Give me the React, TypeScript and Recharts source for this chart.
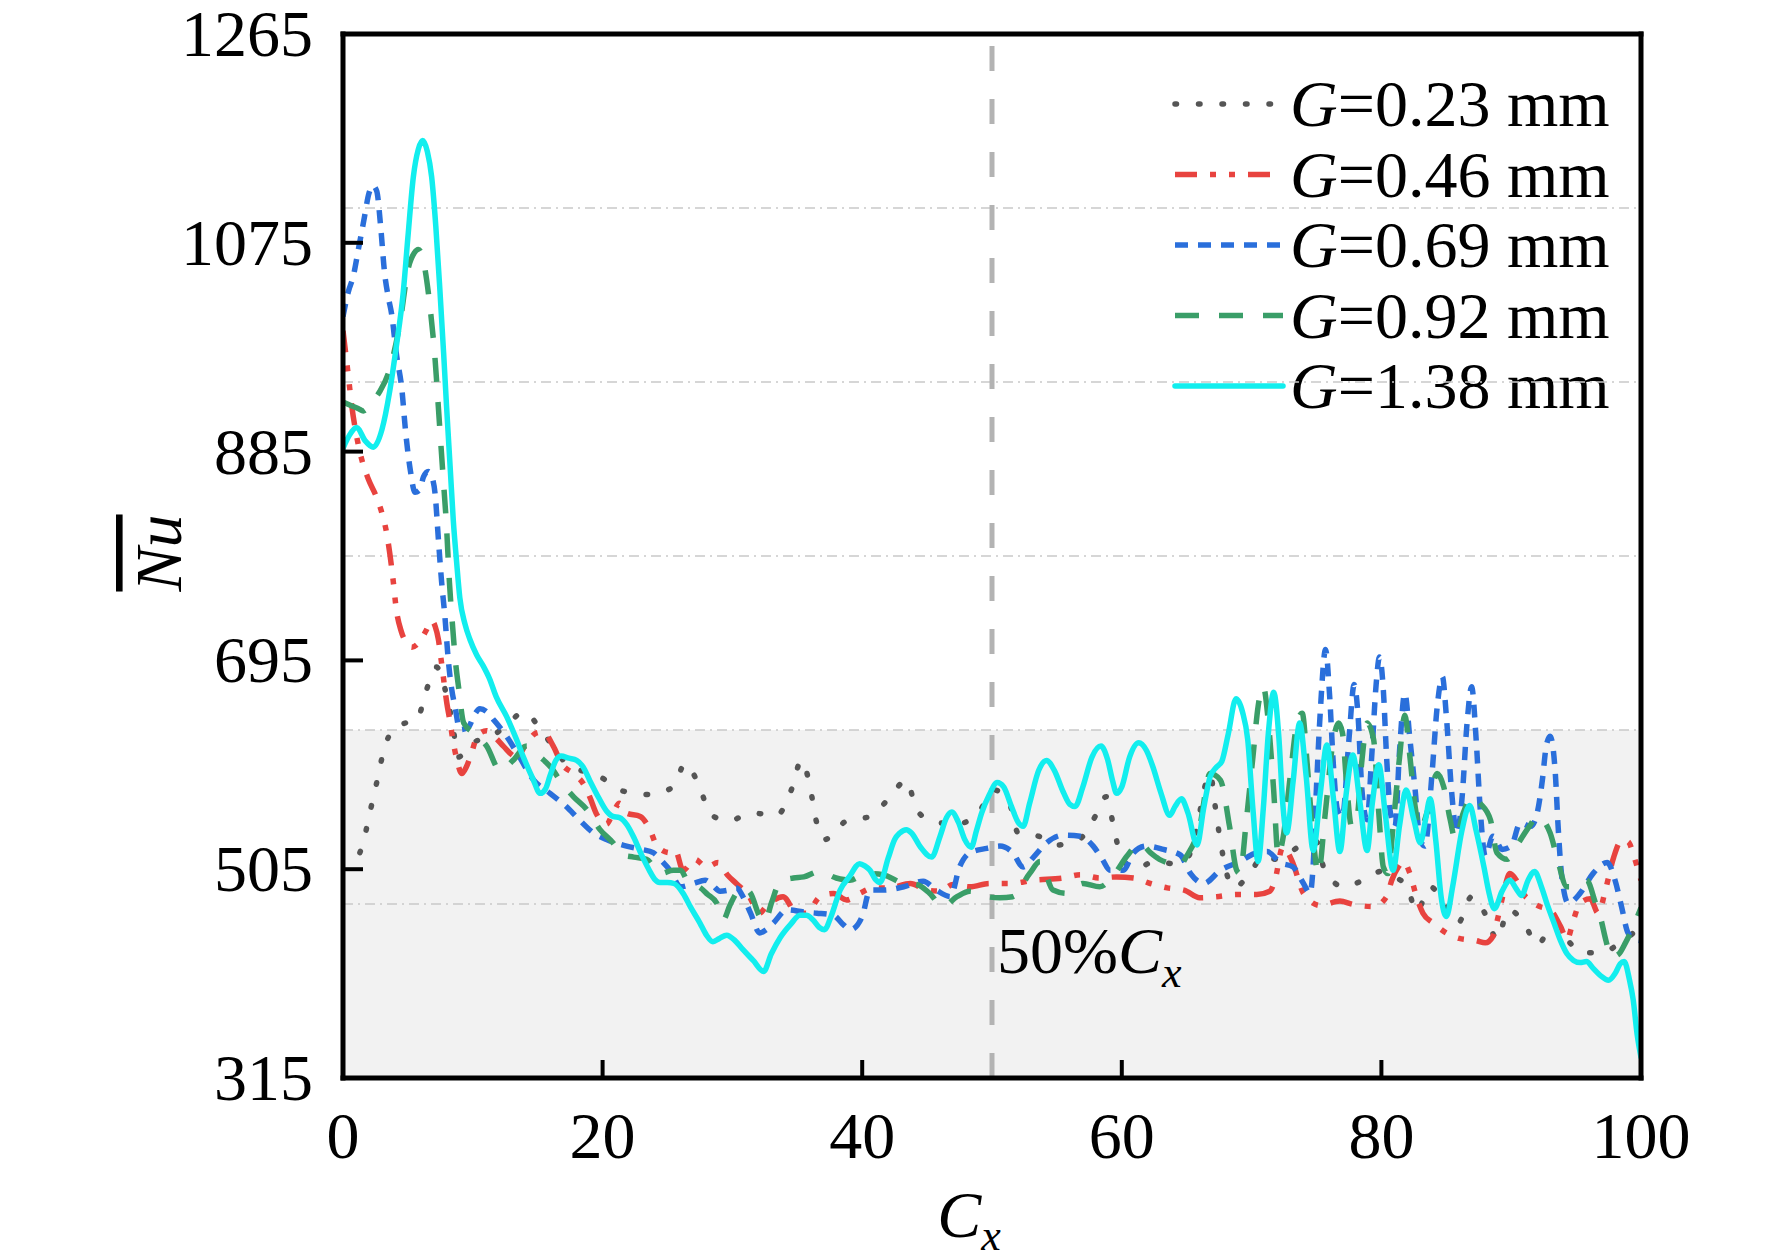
import React from 'react';
import { LineChart, Line, XAxis, YAxis, ReferenceLine, ReferenceArea } from 'recharts';

const FONT = 'Liberation Serif, Times New Roman, Tinos, DejaVu Serif, serif';
const FS = 66;

const X_TICKS = [0, 20, 40, 60, 80, 100];
const Y_TICKS = [315, 505, 695, 885, 1075, 1265];
const GRID_Y = [473.33, 631.67, 790, 948.33, 1106.67];
const SHADE_TOP = 631.67;
const MID_LINE = 50;

// [Cx, Nu]
const G023: [number, number][] = [
  [1.3, 520], [1.57, 530], [2.08, 557], [2.6, 584], [3.1, 611], [3.9, 633], [4.8, 638], [5.7, 641],
  [6.4, 667], [7.2, 689], [7.6, 680], [8.0, 662], [8.4, 640], [8.9, 607], [9.4, 612], [10.04, 620],
  [11.45, 626], [12.7, 637], [13.9, 648], [15.3, 631], [16.5, 611], [17.5, 598], [18.6, 594],
  [19.8, 589], [21.6, 576], [23.65, 573], [25.45, 580], [26.35, 601], [27.5, 579], [28.3, 555],
  [29.7, 549], [31.5, 556], [33.4, 554], [34.6, 579], [35.3, 604], [36.0, 579], [36.4, 552],
  [37.1, 532], [38.8, 549], [40.6, 553], [42.1, 570], [43.4, 586], [44.2, 559], [45.35, 549],
  [47.2, 546], [48.8, 554], [50.2, 577], [51.4, 563], [52.0, 538], [53.6, 535], [55.0, 527],
  [56.7, 532], [58.0, 554], [58.8, 571], [59.4, 542], [60.0, 514], [61.2, 506], [62.5, 512],
  [64.0, 510], [65.0, 514], [65.8, 544], [66.4, 580], [66.8, 592], [67.2, 562], [67.6, 530],
  [68.6, 488], [69.8, 500], [70.9, 517], [71.9, 514], [72.7, 518], [74.0, 528], [75.0, 530],
  [75.6, 505], [77.1, 489], [78.6, 495], [80.0, 503], [81.0, 498], [82.0, 489], [82.7, 466],
  [83.75, 489], [85.0, 471], [85.9, 456], [86.95, 480], [88.1, 462], [88.9, 441], [89.8, 468],
  [91.0, 456], [92.0, 436], [93.3, 456], [94.3, 441], [95.5, 429], [96.9, 429], [98.4, 438],
  [99.4, 447], [100, 455],
];

const G046: [number, number][] = [
  [0, 995], [0.41, 954], [0.67, 927], [1.05, 899], [1.44, 878], [1.95, 860], [2.6, 843], [3.0, 829],
  [3.36, 811], [3.62, 791], [3.88, 766], [4.1, 742], [4.5, 721], [4.9, 711], [5.3, 707], [5.9, 712],
  [6.4, 722], [6.83, 731], [7.1, 726], [7.35, 714], [7.6, 692], [8.0, 656], [8.25, 639], [8.5, 620],
  [8.75, 606], [9.14, 592], [9.5, 598], [9.8, 607], [10.4, 627], [11.07, 631], [11.8, 624],
  [12.35, 617], [13.4, 607], [14.15, 620], [14.9, 629], [15.4, 630], [16.2, 617], [16.85, 601],
  [17.75, 592], [18.5, 583], [19.0, 571], [19.5, 556], [20.3, 546], [20.8, 556], [21.3, 565],
  [21.85, 556], [22.9, 553], [23.65, 541], [24.2, 526], [25.2, 520], [25.6, 522], [26.2, 504],
  [27.1, 514], [28.0, 507], [28.9, 511], [29.6, 500], [30.3, 492], [31.2, 482], [32.1, 465],
  [32.6, 471], [33.9, 480], [34.95, 465], [35.7, 465], [36.75, 480], [37.8, 483], [38.8, 477],
  [39.8, 483], [40.9, 488], [42.1, 488], [43.7, 492], [45.0, 486], [46.0, 485], [47.0, 491],
  [48.3, 489], [49.8, 492], [51.4, 492], [53.2, 495], [55.5, 497], [56.8, 500], [58.3, 497],
  [59.6, 498], [60.9, 497], [62.2, 492], [63.5, 488], [64.8, 486], [66.0, 479], [67.3, 480],
  [68.85, 482], [70.4, 482], [71.4, 485], [71.8, 495], [72.4, 525], [72.8, 520], [73.2, 510],
  [74.0, 483], [75.3, 472], [76.8, 476], [77.8, 473], [79.4, 471], [80.4, 480], [80.8, 495],
  [81.3, 507], [81.7, 512], [82.2, 501], [82.7, 480], [83.2, 465], [84.0, 456], [85.0, 447],
  [86.0, 442], [87.3, 440], [88.0, 438], [88.6, 444], [89.0, 462], [89.4, 483], [89.9, 501],
  [90.4, 495], [90.9, 483], [91.4, 477], [92.2, 471], [93.0, 468], [93.8, 453], [94.3, 441],
  [94.8, 459], [95.3, 474], [96.1, 478], [96.7, 465], [97.3, 488], [97.9, 516], [98.5, 531],
  [99.0, 530], [99.5, 515], [100, 495],
];

const G069: [number, number][] = [
  [0, 1008], [0.4, 1030], [0.8, 1045], [1.2, 1070], [1.6, 1095], [2.0, 1120], [2.3, 1127],
  [2.6, 1122], [2.9, 1090], [3.2, 1048], [3.5, 1025], [3.75, 1010], [4.1, 975], [4.55, 940],
  [4.8, 906], [5.2, 867], [5.55, 848], [5.9, 850], [6.2, 862], [6.57, 867], [6.85, 862], [7.1, 846],
  [7.35, 805], [7.6, 766], [7.85, 735], [8.1, 697], [8.37, 669], [8.63, 653], [9.0, 632], [9.65, 634],
  [10.1, 645], [10.55, 651], [11.1, 648], [11.6, 641], [12.6, 626], [13.6, 607], [14.7, 586],
  [15.95, 574], [17.2, 562], [18.2, 550], [19.3, 538], [20.3, 532], [21.85, 526], [23.0, 523],
  [23.9, 520], [24.6, 512], [25.2, 504], [26.0, 489], [27.0, 492], [27.9, 495], [28.5, 490],
  [29.05, 485], [29.7, 486], [30.3, 488], [30.9, 478], [31.4, 465], [32.1, 447], [32.6, 450],
  [33.15, 456], [34.2, 468], [35.5, 466], [36.5, 465], [37.8, 463], [38.5, 455], [39.1, 450],
  [40.0, 462], [40.6, 486], [41.6, 486], [43.2, 489], [44.7, 494], [45.7, 486], [46.8, 480],
  [47.5, 507], [48.3, 520], [49.6, 524], [50.6, 526], [51.6, 520], [52.4, 507], [53.2, 516],
  [54.2, 529], [55.5, 536], [56.8, 535], [57.8, 526], [58.5, 514], [59.1, 504], [60.1, 504],
  [60.9, 520], [61.9, 526], [63.2, 523], [64.5, 518], [65.3, 501], [66.3, 492], [67.6, 504],
  [69.1, 512], [70.4, 520], [71.2, 521], [72.2, 511], [73.2, 507], [74.0, 492], [74.5, 483],
  [74.75, 510], [75.0, 580], [75.3, 650], [75.7, 705], [76.0, 665], [76.3, 600], [76.6, 560],
  [77.0, 553], [77.5, 623], [77.9, 673], [78.2, 645], [78.5, 577], [78.9, 550], [79.25, 607],
  [79.6, 674], [79.85, 698], [80.15, 668], [80.4, 607], [80.7, 556], [81.05, 544], [81.4, 613],
  [81.8, 665], [82.2, 623], [82.6, 577], [82.97, 532], [83.35, 526], [83.9, 592], [84.3, 653],
  [84.7, 680], [85.0, 645], [85.4, 577], [85.8, 538], [86.2, 568], [86.6, 638], [86.95, 671],
  [87.3, 623], [87.6, 562], [88.0, 517], [88.6, 535], [89.3, 523], [90.0, 526], [90.7, 547],
  [91.5, 544], [92.0, 556], [92.4, 586], [92.7, 617], [93.0, 626], [93.4, 592], [93.6, 547],
  [93.9, 498], [94.4, 474], [95.3, 483], [96.3, 501], [97.4, 511], [98.0, 495], [98.5, 471],
  [99.0, 447], [99.6, 441], [100, 440],
];

const G092: [number, number][] = [
  [0, 930], [0.6, 927], [1.2, 924], [1.57, 922], [2.2, 930], [2.85, 940], [3.62, 961], [4.4, 1003],
  [5.03, 1052], [5.5, 1066], [5.8, 1069], [6.1, 1063], [6.3, 1052], [6.7, 1017], [7.1, 968],
  [7.4, 916], [7.7, 864], [7.95, 822], [8.2, 766], [8.45, 725], [8.7, 690], [8.9, 671], [9.3, 638],
  [10.04, 629], [11.07, 617], [12.1, 595], [13.1, 604], [14.15, 617], [15.2, 607], [16.2, 595],
  [16.7, 586], [17.75, 571], [18.8, 559], [19.8, 541], [20.8, 529], [21.5, 518], [22.4, 516],
  [23.4, 514], [24.45, 501], [25.45, 504], [26.0, 504], [26.7, 491], [27.4, 489], [28.1, 482],
  [28.8, 474], [29.3, 459], [29.8, 472], [30.3, 483], [30.8, 488], [31.4, 483], [32.1, 462],
  [32.5, 457], [33.0, 474], [33.7, 494], [34.7, 497], [35.5, 498], [36.7, 503], [38.0, 497],
  [39.05, 495], [40.3, 501], [41.6, 500], [43.2, 492], [44.2, 491], [45.2, 483], [46.2, 471],
  [47.3, 480], [48.3, 485], [49.6, 480], [50.6, 479], [51.6, 480], [52.9, 501], [53.7, 512],
  [54.7, 486], [55.75, 483], [57.0, 492], [58.3, 489], [59.4, 500], [60.4, 517], [61.4, 529],
  [62.2, 520], [62.9, 514], [64.5, 509], [65.0, 517], [66.0, 544], [66.8, 592], [67.6, 586],
  [68.3, 544], [68.85, 504], [69.1, 501], [69.6, 550], [70.1, 607], [70.5, 653], [70.9, 671],
  [71.3, 638], [71.7, 577], [72.05, 517], [72.4, 532], [73.0, 592], [73.5, 638], [73.9, 647],
  [74.3, 598], [74.75, 532], [75.15, 501], [75.65, 553], [76.3, 623], [76.7, 638], [77.0, 629],
  [77.3, 586], [77.7, 544], [78.1, 550], [78.5, 604], [78.9, 638], [79.4, 623], [79.8, 556],
  [80.15, 507], [80.5, 501], [80.9, 544], [81.4, 607], [81.8, 645], [82.2, 607], [82.6, 562],
  [83.0, 541], [83.5, 556], [84.3, 592], [84.8, 580], [85.3, 550], [85.7, 532], [86.3, 556],
  [87.0, 571], [87.6, 565], [88.4, 550], [88.9, 520], [89.7, 514], [90.4, 526], [91.4, 544],
  [92.0, 553], [93.0, 538], [93.5, 517], [94.3, 489], [95.0, 489], [95.8, 495], [96.5, 474],
  [96.9, 460], [97.3, 440], [97.7, 425], [98.3, 428], [98.8, 438], [99.3, 450], [100, 470],
];

const G138: [number, number][] = [
  [0, 888], [0.5, 900], [1.05, 907], [1.7, 895], [2.34, 889], [3.0, 905], [3.6, 940], [4.1, 980],
  [4.65, 1031], [5.0, 1080], [5.42, 1135], [5.8, 1160], [6.14, 1168], [6.5, 1158], [6.83, 1135],
  [7.15, 1090], [7.47, 1031], [7.75, 975], [7.98, 926], [8.25, 872], [8.5, 822], [8.75, 785],
  [9.0, 752], [9.4, 728], [9.78, 714], [10.3, 700], [10.8, 690], [11.3, 678], [11.8, 662],
  [12.6, 644], [13.3, 625], [13.9, 607], [14.6, 588], [15.2, 574], [15.6, 578], [15.95, 590],
  [16.4, 604], [16.8, 608], [17.4, 606], [18.0, 604], [18.5, 598], [19.0, 586], [19.7, 570],
  [20.3, 558], [20.8, 553], [21.3, 552], [21.9, 545], [22.4, 534], [23.0, 518], [23.6, 504],
  [24.0, 496], [24.4, 493], [25.0, 493], [25.5, 492], [26.2, 483], [26.8, 470], [27.5, 456],
  [28.0, 445], [28.5, 439], [29.0, 442], [29.56, 445], [30.2, 440], [30.8, 432], [31.6, 422],
  [32.4, 412], [33.0, 428], [33.7, 443], [34.5, 455], [35.2, 463], [35.7, 463], [36.2, 459],
  [36.7, 452], [37.1, 450], [37.6, 462], [38.3, 486], [39.0, 498], [39.8, 510], [40.2, 508],
  [40.6, 504], [41.0, 496], [41.37, 493], [42.0, 515], [42.5, 532], [42.9, 538], [43.4, 541],
  [43.8, 538], [44.5, 525], [45.35, 516], [46.0, 535], [46.5, 552], [46.9, 557], [47.4, 548],
  [47.9, 532], [48.4, 525], [48.8, 540], [49.2, 556], [49.8, 573], [50.4, 584], [50.9, 580],
  [51.5, 562], [52.0, 548], [52.4, 544], [52.9, 565], [53.6, 595], [54.2, 604], [54.8, 595],
  [55.5, 575], [56.0, 564], [56.4, 562], [57.0, 580], [57.7, 607], [58.4, 617], [58.9, 605],
  [59.3, 585], [59.6, 574], [60.0, 580], [60.6, 607], [61.3, 620], [61.9, 613], [62.4, 598],
  [63.0, 575], [63.7, 554], [64.1, 562], [64.6, 569], [65.1, 556], [65.8, 527], [66.3, 560],
  [66.8, 589], [67.3, 598], [67.7, 603], [68.2, 628], [68.8, 660], [69.3, 648], [69.7, 623],
  [70.1, 560], [70.5, 512], [70.9, 560], [71.3, 630], [71.7, 666], [72.1, 625], [72.4, 565],
  [72.7, 538], [73.2, 585], [73.7, 638], [74.2, 590], [74.75, 522], [75.3, 575], [75.8, 618],
  [76.3, 570], [76.8, 521], [77.3, 575], [77.8, 609], [78.3, 570], [78.9, 522], [79.3, 565],
  [79.8, 600], [80.3, 555], [80.9, 504], [81.4, 545], [81.9, 577], [82.5, 550], [83.0, 529],
  [83.4, 550], [83.75, 569], [84.2, 530], [84.6, 480], [85.0, 462], [85.5, 490], [86.2, 540],
  [86.8, 563], [87.3, 540], [87.9, 507], [88.3, 483], [88.7, 469], [89.3, 485], [89.9, 495],
  [90.4, 487], [90.8, 481], [91.3, 495], [91.8, 503], [92.3, 490], [92.8, 472], [93.3, 456],
  [93.8, 440], [94.3, 428], [94.8, 422], [95.3, 420], [95.8, 421], [96.3, 415], [96.9, 408],
  [97.5, 404], [98.0, 410], [98.4, 419], [98.7, 421], [99.1, 405], [99.4, 386], [99.7, 355],
  [100, 334],
];

type Series = {
  id: string;
  label: string;
  values: [number, number][];
  color: string;
  dash?: string;
  cap: 'round' | 'butt';
  width: number;
};

const SERIES: Series[] = [
  { id: 'g023', label: '=0.23 mm', values: G023, color: '#555555', dash: '1.5 22', cap: 'round', width: 5.5 },
  { id: 'g046', label: '=0.46 mm', values: G046, color: '#e8433f', dash: '22 13 6 13 6 13', cap: 'butt', width: 5.5 },
  { id: 'g069', label: '=0.69 mm', values: G069, color: '#2a6fdb', dash: '13 10', cap: 'butt', width: 5.5 },
  { id: 'g092', label: '=0.92 mm', values: G092, color: '#3a9e68', dash: '24 20', cap: 'butt', width: 5.5 },
  { id: 'g138', label: '=1.38 mm', values: G138, color: '#12eeee', cap: 'round', width: 5.5 },
];

const TXT = { fontFamily: FONT, fontSize: FS, fill: '#000' };

const XTick = (props: any) => {
  const { x, y, payload } = props;
  return (
    <text x={x} y={y} textAnchor="middle" style={TXT}>
      {payload.value}
    </text>
  );
};

const YTick = (props: any) => {
  const { x, y, payload } = props;
  return (
    <text x={x} y={y} dy={22} textAnchor="end" style={TXT}>
      {payload.value}
    </text>
  );
};

const MidLabel = (props: any) => {
  const vb = props.viewBox || {};
  const x = (vb.x ?? 0) + 5;
  const y = (vb.y ?? 0) + (vb.height ?? 0) - 105;
  return (
    <text x={x} y={y} style={TXT}>
      50%<tspan fontStyle="italic">C</tspan>
      <tspan fontStyle="italic" fontSize={44} dy={14}>x</tspan>
    </text>
  );
};

const Legend = () => (
  <g>
    {SERIES.map((s, i) => {
      const cy = 96 + i * 70.5;
      return (
        <g key={s.id}>
          <line
            x1={1167}
            x2={1275}
            y1={cy}
            y2={cy}
            stroke={s.color}
            strokeWidth={s.width}
            strokeDasharray={s.dash}
            strokeLinecap={s.cap}
          />
          <text x={1282} y={cy + 22} style={TXT}>
            <tspan fontStyle="italic">G</tspan>
            {s.label}
          </text>
        </g>
      );
    })}
  </g>
);

const AxisTitles = () => (
  <g>
    <text
      x={173}
      y={545}
      transform="rotate(-90, 173, 545)"
      textAnchor="middle"
      style={{ ...TXT, fontStyle: 'italic', textDecoration: 'overline' }}
    >
      Nu
    </text>
    <text x={961} y={1229} textAnchor="middle" style={TXT}>
      <tspan fontStyle="italic">C</tspan>
      <tspan fontStyle="italic" fontSize={44} dy={13}>x</tspan>
    </text>
  </g>
);

const AXIS_LINE = { stroke: '#000', strokeWidth: 5, strokeLinecap: 'square' as const };
const TICK_LINE = { stroke: '#000', strokeWidth: 4 };

export default function App() {
  return (
    <div style={{ width: 1756, height: 1249, background: '#fff' }}>
      <LineChart width={1756} height={1249} margin={{ top: 25, right: 122, bottom: 178, left: 334 }}>
        <XAxis
          xAxisId="b"
          type="number"
          dataKey="cx"
          domain={[0, 100]}
          ticks={X_TICKS}
          interval={0}
          allowDataOverflow
          height={1}
          tickSize={-18}
          tickMargin={98}
          tick={<XTick />}
          axisLine={AXIS_LINE}
          tickLine={TICK_LINE}
        />
        <XAxis
          xAxisId="t"
          orientation="top"
          type="number"
          dataKey="cx"
          domain={[0, 100]}
          height={1}
          tick={false}
          tickLine={false}
          axisLine={AXIS_LINE}
        />
        <YAxis
          yAxisId="l"
          type="number"
          domain={[315, 1265]}
          ticks={Y_TICKS}
          interval={0}
          allowDataOverflow
          width={1}
          tickSize={-20}
          tickMargin={50}
          tick={<YTick />}
          axisLine={AXIS_LINE}
          tickLine={TICK_LINE}
        />
        <YAxis
          yAxisId="r"
          orientation="right"
          type="number"
          domain={[315, 1265]}
          width={1}
          tick={false}
          tickLine={false}
          axisLine={AXIS_LINE}
        />
        <ReferenceArea
          xAxisId="b"
          yAxisId="l"
          x1={0}
          x2={100}
          y1={315}
          y2={SHADE_TOP}
          fill="#f2f2f2"
          fillOpacity={1}
          stroke="none"
        />
        {GRID_Y.map((v) => (
          <ReferenceLine
            key={v}
            xAxisId="b"
            yAxisId="l"
            y={v}
            stroke="#c9c9c9"
            strokeWidth={1.5}
            strokeDasharray="10 5 2 5"
          />
        ))}
        <ReferenceLine
          xAxisId="b"
          yAxisId="l"
          x={MID_LINE}
          stroke="#b3b3b3"
          strokeWidth={5}
          strokeDasharray="25 28"
          label={<MidLabel />}
        />
        {SERIES.map((s) => (
          <Line
            key={s.id}
            xAxisId="b"
            yAxisId="l"
            data={s.values.map(([cx, nu]) => ({ cx, nu }))}
            dataKey="nu"
            type="monotone"
            stroke={s.color}
            strokeWidth={s.width}
            strokeDasharray={s.dash}
            strokeLinecap={s.cap}
            strokeLinejoin="round"
            dot={false}
            activeDot={false}
            isAnimationActive={false}
          />
        ))}
        <Legend />
        <AxisTitles />
      </LineChart>
    </div>
  );
}
